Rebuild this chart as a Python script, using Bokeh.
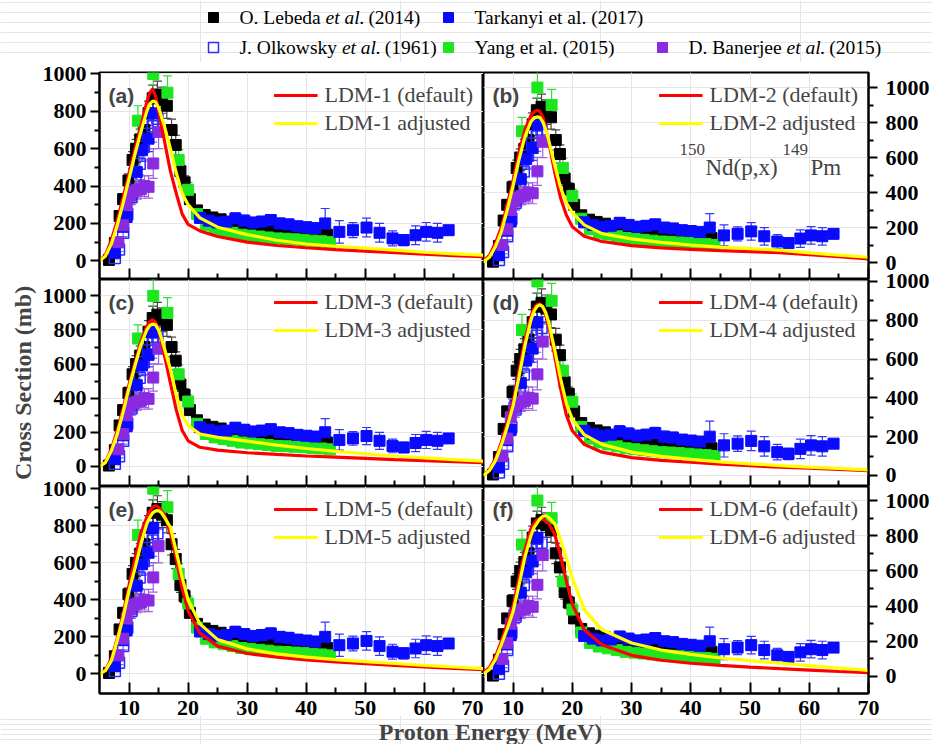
from bokeh.plotting import figure
from bokeh.layouts import column, row
from bokeh.models import (Range1d, FixedTicker, Whisker, TeeHead, ColumnDataSource,
                          Legend, LegendItem, Label, LinearAxis)
from bokeh.embed import file_html
from bokeh.resources import INLINE
from bokeh.core.properties import value

# ---------------- experimental data (same in every panel) ----------------
lebeda_e = [6.6, 7.6, 8.4, 9.0, 9.9, 10.6, 11.2, 11.9, 12.6, 13.3, 14.0, 14.8, 15.6, 16.4,
            17.2, 17.9, 18.7, 19.4, 20.3, 21.5, 22.8, 24.1, 25.5, 27.0, 28.6, 30.2, 32.0, 33.8,
            35.7, 37.6, 39.5, 41.5, 43.5]
lebeda_s = [5, 95, 240, 330, 430, 540, 600, 650, 700, 790, 870, 890, 860, 830,
            700, 620, 480, 420, 330, 270, 245, 232, 222, 205, 195, 185, 175, 170,
            160, 155, 150, 145, 140]
lebeda_err = [3, 10, 20, 28, 35, 45, 50, 55, 60, 65, 70, 72, 70, 68,
              58, 52, 40, 35, 28, 23, 21, 20, 19, 18, 17, 16, 15, 15,
              14, 14, 13, 13, 13]

olkowsky_e = [7.6, 8.3, 9.0, 9.7, 10.4, 11.1, 11.8, 12.5, 13.2, 14.0, 14.8]
olkowsky_s = [15, 60, 150, 250, 340, 430, 520, 610, 680, 720, 760]
olkowsky_err = [5, 10, 20, 30, 40, 50, 60, 70, 80, 85, 90]

tarkanyi_e = [7.6, 9.0, 9.6, 10.4, 11.3, 12.2, 13.3, 14.1,
              22.0, 23.5, 25.0, 26.5, 28.0, 29.5, 31.0, 32.5, 34.0, 35.5, 37.0, 38.5, 40.0, 41.5,
              43.2, 45.6, 47.9, 50.2, 52.4, 54.6, 56.5, 58.5, 60.3, 62.2, 64.1]
tarkanyi_s = [43, 182, 235, 360, 476, 592, 654, 788,
              230, 215, 205, 210, 227, 215, 205, 210, 218, 200, 195, 185, 180, 175,
              200, 155, 164, 178, 150, 120, 111, 137, 155, 150, 164]
tarkanyi_err = [10, 25, 30, 40, 50, 60, 70, 80,
                30, 30, 28, 28, 30, 30, 28, 28, 30, 28, 28, 26, 26, 25,
                80, 60, 40, 50, 50, 40, 30, 50, 50, 50, 20]

yang_e = [11.5, 14.1, 16.5, 18.4, 20.0, 21.5, 23.0, 24.5, 26.0, 27.5, 29.0, 30.5, 32.0,
          33.5, 35.0, 36.5, 38.0, 39.5, 41.0, 42.5, 44.0]
yang_s = [750, 1000, 900, 540, 380, 250, 190, 170, 160, 150, 140, 135, 130,
          125, 120, 118, 115, 112, 108, 105, 100]
yang_err = [80, 100, 90, 55, 40, 25, 19, 17, 16, 15, 14, 14, 13,
            13, 12, 12, 12, 11, 11, 11, 10]

banerjee_e = [8.2, 9.0, 9.6, 10.2, 10.8, 11.4, 12.0, 12.6, 13.3, 14.1, 15.0]
banerjee_s = [100, 190, 300, 350, 370, 380, 385, 400, 396, 521, 690]
banerjee_err = [20, 30, 40, 45, 50, 50, 50, 55, 60, 80, 90]

# ---------------- model curves ----------------
energy = [5, 6, 7, 8, 9, 10, 11, 12, 13, 13.5, 14, 14.5, 15, 15.5, 16, 17, 18, 19, 20,
          22, 25, 30, 35, 40, 45, 50, 55, 60, 65, 70]
ldm_default = [
    [0, 30, 110, 215, 340, 470, 600, 720, 850, 900, 920, 880, 800, 720, 640, 480, 360, 250, 195,
     160, 130, 100, 82, 70, 60, 52, 44, 36, 28, 22],
    [10, 40, 110, 200, 330, 470, 630, 760, 840, 860, 870, 865, 830, 770, 690, 520, 370, 270, 205,
     150, 120, 97, 84, 75, 68, 62, 56, 45, 33, 21],
    [0, 25, 100, 210, 340, 480, 610, 730, 820, 850, 860, 845, 800, 730, 650, 490, 330, 210, 150,
     112, 95, 80, 70, 61, 54, 47, 40, 34, 28, 22],
    [0, 30, 85, 170, 270, 380, 540, 700, 820, 860, 880, 885, 870, 830, 770, 620, 450, 310, 230,
     160, 120, 92, 78, 68, 58, 50, 43, 37, 31, 25],
    [0, 20, 80, 190, 325, 480, 620, 760, 846, 880, 900, 909, 900, 880, 860, 760, 620, 460, 340,
     220, 150, 110, 90, 75, 64, 55, 46, 38, 30, 23],
    [24, 50, 110, 200, 300, 400, 560, 720, 840, 870, 890, 896, 895, 880, 870, 810, 690, 540, 410,
     265, 180, 120, 92, 75, 63, 53, 44, 36, 28, 21],
]
ldm_adjusted = [
    [0, 25, 90, 190, 310, 440, 570, 690, 800, 840, 855, 850, 820, 770, 720, 600, 470, 360, 300,
     230, 180, 140, 110, 90, 78, 68, 57, 46, 37, 30],
    [5, 30, 90, 175, 300, 440, 590, 720, 805, 825, 832, 830, 805, 760, 700, 560, 430, 340, 285,
     215, 165, 135, 115, 100, 88, 80, 71, 55, 42, 30],
    [0, 22, 90, 190, 320, 460, 590, 710, 800, 825, 835, 830, 800, 750, 690, 570, 420, 300, 240,
     190, 170, 148, 125, 105, 88, 74, 61, 50, 40, 31],
    [0, 25, 75, 155, 250, 360, 510, 670, 800, 845, 870, 880, 870, 840, 790, 650, 500, 370, 290,
     210, 160, 120, 98, 83, 70, 60, 51, 43, 36, 29],
    [0, 18, 70, 180, 307, 450, 570, 700, 810, 845, 870, 880, 882, 870, 845, 792, 660, 520, 400,
     270, 185, 135, 108, 90, 77, 66, 56, 46, 37, 28],
    [15, 40, 95, 180, 270, 370, 520, 680, 800, 845, 870, 895, 910, 915, 905, 870, 780, 670, 560,
     380, 265, 190, 150, 125, 105, 90, 76, 62, 48, 35],
]
model_names = ["LDM-1", "LDM-2", "LDM-3", "LDM-4", "LDM-5", "LDM-6"]
panel_letters = ["(a)", "(b)", "(c)", "(d)", "(e)", "(f)"]
y_limits = [(-100, 1008), (-97, 1086), (-118, 1096), (-57, 1010), (-106, 1012), (-97, 1080)]
x_ticks = [10, 20, 30, 40, 50, 60, 70]
x_minor = [15, 25, 35, 45, 55, 65]
y_ticks = [0, 200, 400, 600, 800, 1000]
y_minor = [100, 300, 500, 700, 900]

SERIF = "Liberation Serif"
SANS = "Liberation Sans"
FRAME_H = 207
FW_L, FW_R = 384, 385
LB, RB = 99, 64
TOPB = 10
BOTB = 30

series = [
    (lebeda_e, lebeda_s, lebeda_err, "black", "black", "#444444", 11),
    (olkowsky_e, olkowsky_s, olkowsky_err, "#2b2bff", None, "#6a6aff", 11),
    (yang_e, yang_s, yang_err, "#1ee61e", "#1ee61e", "#33dd33", 11),
    (tarkanyi_e, tarkanyi_s, tarkanyi_err, "#0a0aff", "#0a0aff", "#3535ff", 11),
    (banerjee_e, banerjee_s, banerjee_err, "#8a2be2", "#8a2be2", "#a060e0", 11),
]


def make_panel(k, row_idx):
    left = (k % 2 == 0)
    ylo, yhi = y_limits[k]
    bottom = BOTB if row_idx == 2 else 0
    p = figure(width=(LB + FW_L) if left else (FW_R + RB), height=TOPB + FRAME_H + bottom,
               x_range=Range1d(5, 70), y_range=Range1d(ylo, yhi),
               output_backend="svg", toolbar_location=None,
               x_axis_location=None, y_axis_location=None,
               min_border_left=LB if left else 0, min_border_right=0 if left else RB,
               min_border_top=TOPB, min_border_bottom=bottom)
    p.outline_line_color = "black"
    p.outline_line_width = 2
    p.outline_line_alpha = 1
    if row_idx > 0:
        p.border_fill_color = None
        p.background_fill_color = None

    xa = LinearAxis(ticker=FixedTicker(ticks=x_ticks, minor_ticks=x_minor))
    xa.major_tick_in = 11
    xa.major_tick_out = 0
    xa.minor_tick_in = 6
    xa.minor_tick_out = 0
    xa.axis_line_width = 2
    xa.major_tick_line_width = 2
    xa.minor_tick_line_width = 2
    if row_idx == 2:
        xa.major_label_text_font = SERIF
        xa.major_label_text_font_style = "bold"
        xa.major_label_text_font_size = "22px"
        xa.major_label_text_color = "black"
        xa.major_label_standoff = 7
    else:
        xa.major_label_text_font_size = "0px"
        xa.major_label_text_color = None
        xa.major_label_standoff = 0
    p.add_layout(xa, "below")

    ya = LinearAxis(ticker=FixedTicker(ticks=y_ticks, minor_ticks=y_minor))
    ya.major_tick_in = 0
    ya.major_tick_out = 9
    ya.minor_tick_in = 0
    ya.minor_tick_out = 5
    ya.axis_line_width = 2
    ya.major_tick_line_width = 2
    ya.minor_tick_line_width = 2
    ya.major_label_text_font = SERIF
    ya.major_label_text_font_style = "bold"
    ya.major_label_text_font_size = "22px"
    ya.major_label_text_color = "black"
    ya.major_label_orientation = "horizontal"
    if left:
        ya.major_label_standoff = 4
        if k == 2:
            ya.axis_label = "Cross Section (mb)"
            ya.axis_label_text_font = SERIF
            ya.axis_label_text_font_style = "bold"
            ya.axis_label_text_font_size = "24px"
            ya.axis_label_standoff = 4
        p.add_layout(ya, "left")
    else:
        ya.major_label_standoff = 8
        p.add_layout(ya, "right")

    for (ex, sy, er, col, fill, ecol, size) in series:
        src = ColumnDataSource(dict(x=ex, y=sy,
                                    lo=[a - b for a, b in zip(sy, er)],
                                    hi=[a + b for a, b in zip(sy, er)]))
        wh = Whisker(base="x", upper="hi", lower="lo", source=src,
                     line_color=ecol, line_width=1.2,
                     upper_head=TeeHead(size=9, line_color=ecol, line_width=1.2),
                     lower_head=TeeHead(size=9, line_color=ecol, line_width=1.2))
        p.add_layout(wh)
        if fill is None:
            p.scatter("x", "y", source=src, marker="square", size=size,
                      fill_color=None, line_color=col, line_width=1.5)
        else:
            p.scatter("x", "y", source=src, marker="square", size=size,
                      fill_color=fill, line_color=fill)

    r_red = p.line(energy, ldm_default[k], line_color="#ff0000", line_width=3.2)
    r_yel = p.line(energy, ldm_adjusted[k], line_color="#ffff00", line_width=3.2)
    leg = Legend(items=[LegendItem(label=model_names[k] + " (default)", renderers=[r_red]),
                        LegendItem(label=model_names[k] + " adjusted", renderers=[r_yel])],
                 location="top_right", margin=10, padding=0, spacing=2,
                 glyph_width=44, glyph_height=22, label_height=22, label_standoff=7,
                 label_text_font=SERIF, label_text_font_size="22px",
                 border_line_color=None, background_fill_alpha=0)
    p.add_layout(leg)

    # panel letter, placed by frame pixel offsets converted to data units
    xr = 65.0 / (FW_L if left else FW_R)
    yr = (yhi - ylo) / FRAME_H
    p.add_layout(Label(x=5 + 9 * xr, y=yhi - 23 * yr, text=panel_letters[k],
                       text_font=SANS, text_font_style="bold", text_font_size="21px",
                       text_baseline="middle", text_align="left"))
    if k == 1:
        base_y = yhi - 95 * yr
        sup_y = yhi - 77 * yr
        parts = [("150", 196, sup_y, "17px"), ("Nd(p,x)", 222, base_y, "23px"),
                 ("149", 299, sup_y, "17px"), ("Pm", 327, base_y, "23px")]
        for t, px, py, fs in parts:
            p.add_layout(Label(x=5 + px * xr, y=py, text=t, text_font=SERIF,
                               text_font_size=fs, text_baseline="middle", text_align="left"))
    return p


panels = [make_panel(k, k // 2) for k in range(6)]

# ---------------- top legend strip ----------------
leg_fig = figure(width=932, height=62, x_range=Range1d(0, 932), y_range=Range1d(0, 62),
                 output_backend="svg", toolbar_location=None,
                 x_axis_location=None, y_axis_location=None,
                 min_border=0, outline_line_color=None)

TW = {' ': 250, '(': 333, ')': 333, '.': 250, '0': 500, '1': 500, '2': 500, '4': 500, '5': 500,
      '6': 500, '7': 500, '9': 500, 'O': 722, 'L': 611, 'e': 444, 'b': 500, 'd': 500, 'a': 444,
      'T': 611, 'r': 333, 'k': 500, 'n': 500, 'y': 500, 'i': 278, 't': 278, 'l': 278, 'J': 389,
      'o': 500, 'w': 722, 's': 389, 'Y': 722, 'g': 500, 'D': 722, 'B': 667, 'j': 278, 'c': 444,
      'u': 500, 'f': 333, 'x': 500, 'p': 500, 'm': 778, 'N': 722, 'P': 556, 'M': 889, 'h': 500,
      'v': 500, 'K': 722}


def tw(s, size):
    return sum(TW.get(ch, 500) for ch in s) * size / 1000.0


legend_entries = [
    (213, 45, "black", "black", [("O. Lebeda", "normal"), ("et al.", "italic"), ("(2014)", "normal")]),
    (448, 45, "#0a0aff", "#0a0aff", [("Tarkanyi et al. (2017)", "normal")]),
    (213, 15, "#2b2bff", None, [("J. Olkowsky", "normal"), ("et al.", "italic"), ("(1961)", "normal")]),
    (448, 15, "#1ee61e", "#1ee61e", [("Yang et al. (2015)", "normal")]),
    (662, 15, "#8a2be2", "#8a2be2", [("D. Banerjee", "normal"), ("et al.", "italic"), ("(2015)", "normal")]),
]
FS = 19.5
for (mx, my, col, fill, segs) in legend_entries:
    if fill is None:
        leg_fig.scatter([mx], [my], marker="square", size=10, fill_color=None,
                        line_color=col, line_width=1.5)
    else:
        leg_fig.scatter([mx], [my], marker="square", size=10, fill_color=fill, line_color=fill)
    x0 = mx + 26
    for t, st in segs:
        leg_fig.text([x0], [my], text=[t], text_font=value(SERIF), text_font_size="%.1fpx" % FS,
                     text_font_style=st, text_baseline="middle", text_align="left",
                     text_color="black")
        x0 += tw(t, FS) + tw(" ", FS)

# ---------------- bottom axis-title strip ----------------
XL_H = 29
xl_fig = figure(width=932, height=XL_H, x_range=Range1d(0, 932), y_range=Range1d(0, XL_H),
                output_backend="svg", toolbar_location=None,
                x_axis_location=None, y_axis_location=None,
                min_border=0, outline_line_color=None,
                border_fill_color=None, background_fill_color=None,
                margin=(-8, 0, 0, 0))
xl_fig.add_layout(Label(x=490, y=13, text="Proton Energy (MeV)", text_font=SERIF,
                        text_font_style="bold", text_font_size="24px",
                        text_align="center", text_baseline="middle"))

r1 = row(panels[0], panels[1])
r2 = row(panels[2], panels[3], margin=(-TOPB, 0, 0, 0))
r3 = row(panels[4], panels[5], margin=(-TOPB, 0, 0, 0))
layout = column(leg_fig, r1, r2, r3, xl_fig)

open("out.html", "w").write(file_html(layout, INLINE))
